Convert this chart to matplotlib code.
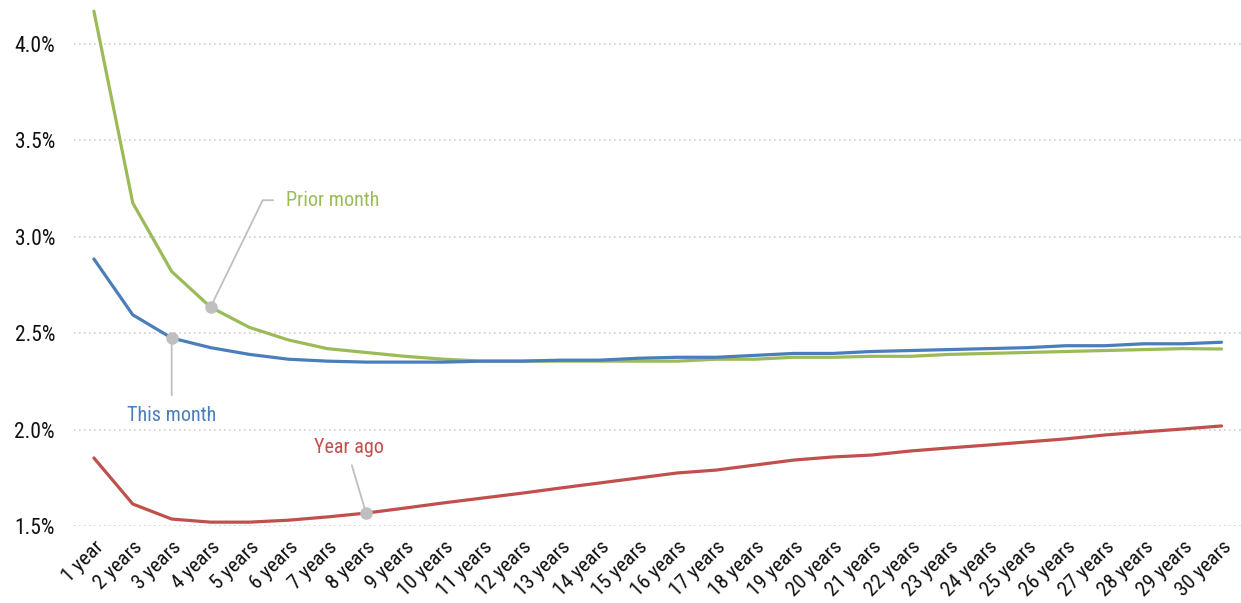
import matplotlib
matplotlib.use('Agg')
import matplotlib.pyplot as plt
from matplotlib import font_manager
from matplotlib.ticker import FuncFormatter

# Data (yield curve, %)
maturities = ['1 year'] + [f'{i} years' for i in range(2, 31)]

this_month = [2.885, 2.595, 2.475, 2.425, 2.39, 2.365, 2.355, 2.35, 2.35, 2.35,
              2.355, 2.355, 2.36, 2.36, 2.37, 2.375, 2.375, 2.385, 2.395, 2.395,
              2.405, 2.41, 2.415, 2.42, 2.425, 2.435, 2.435, 2.445, 2.445, 2.453]

prior_month = [4.17, 3.175, 2.82, 2.635, 2.53, 2.465, 2.42, 2.40, 2.38, 2.365,
               2.355, 2.355, 2.355, 2.355, 2.355, 2.355, 2.365, 2.365, 2.375, 2.375,
               2.38, 2.38, 2.39, 2.395, 2.40, 2.405, 2.41, 2.415, 2.42, 2.418]

year_ago = [1.853, 1.614, 1.536, 1.52, 1.52, 1.53, 1.547, 1.567, 1.593, 1.62,
            1.645, 1.67, 1.697, 1.723, 1.749, 1.775, 1.79, 1.816, 1.842, 1.858,
            1.868, 1.889, 1.905, 1.92, 1.936, 1.952, 1.972, 1.988, 2.003, 2.019]

y_ticks = [1.5, 2.0, 2.5, 3.0, 3.5, 4.0]

BLUE = '#4a7ebb'
GREEN = '#9bbb59'
RED = '#c0504d'
GREY = '#bfbfbf'

# pick a narrow sans face if one is around
installed = {f.name for f in font_manager.fontManager.ttflist}
candidates = ['Roboto Condensed', 'PT Sans Narrow', 'Archivo Narrow', 'Liberation Sans Narrow',
              'Open Sans Condensed', 'DejaVu Sans Condensed']
narrow = [c for c in candidates if c in installed]
plt.rcParams['font.family'] = narrow[:1] + ['DejaVu Sans']

fig = plt.figure(figsize=(12.41, 6.03), dpi=100)
ax = fig.add_axes([0.06, 0.1277, 0.94, 0.8723])

x = list(range(len(maturities)))
ax.plot(x, year_ago, color=RED, lw=2.3, solid_capstyle='round', zorder=3)
ax.plot(x, prior_month, color=GREEN, lw=2.3, solid_capstyle='round', zorder=3)
ax.plot(x, this_month, color=BLUE, lw=2.3, solid_capstyle='round', zorder=4)

ax.set_xlim(-0.5, len(maturities) - 0.5)
ax.set_ylim(1.5, 4.228)
ax.set_yticks(y_ticks)
ax.yaxis.set_major_formatter(FuncFormatter(lambda v, p: f'{v:.1f}%'))
ax.set_xticks(x)
ax.set_xticklabels(maturities, rotation=45, ha='right', rotation_mode='anchor')

ax.grid(axis='y', color='#d0d0d0', linestyle=(0, (1, 2)), lw=1.2)
ax.set_axisbelow(True)
for s in ax.spines.values():
    s.set_visible(False)
ax.tick_params(axis='both', length=0, colors='#111111')
ax.tick_params(axis='y', pad=14, labelsize=15.5)
ax.tick_params(axis='x', pad=8, labelsize=15)

# callouts
def callout(idx, series, label, color, offset, ha, va, relpos, conn, shrinkA):
    ax.plot(idx, series[idx], 'o', color=GREY, ms=8, zorder=5)
    ax.annotate(label, xy=(idx, series[idx]), xytext=offset, textcoords='offset points',
                ha=ha, va=va, color=color, fontsize=14.5,
                arrowprops=dict(arrowstyle='-', color=GREY, lw=1.3, relpos=relpos,
                                connectionstyle=conn, shrinkA=shrinkA, shrinkB=0))

callout(3, prior_month, 'Prior month', GREEN, (54, 77), 'left', 'center', (0, 0.5),
        'angle,angleA=0,angleB=64,rad=0', 7)
callout(2, this_month, 'This month', BLUE, (0, -56), 'center', 'center', (0.5, 1),
        'arc3', 6)
callout(7, year_ago, 'Year ago', RED, (-12, 47), 'center', 'center', (0.5, 0),
        'arc3', 4)

fig.savefig('out.png', dpi=100)
